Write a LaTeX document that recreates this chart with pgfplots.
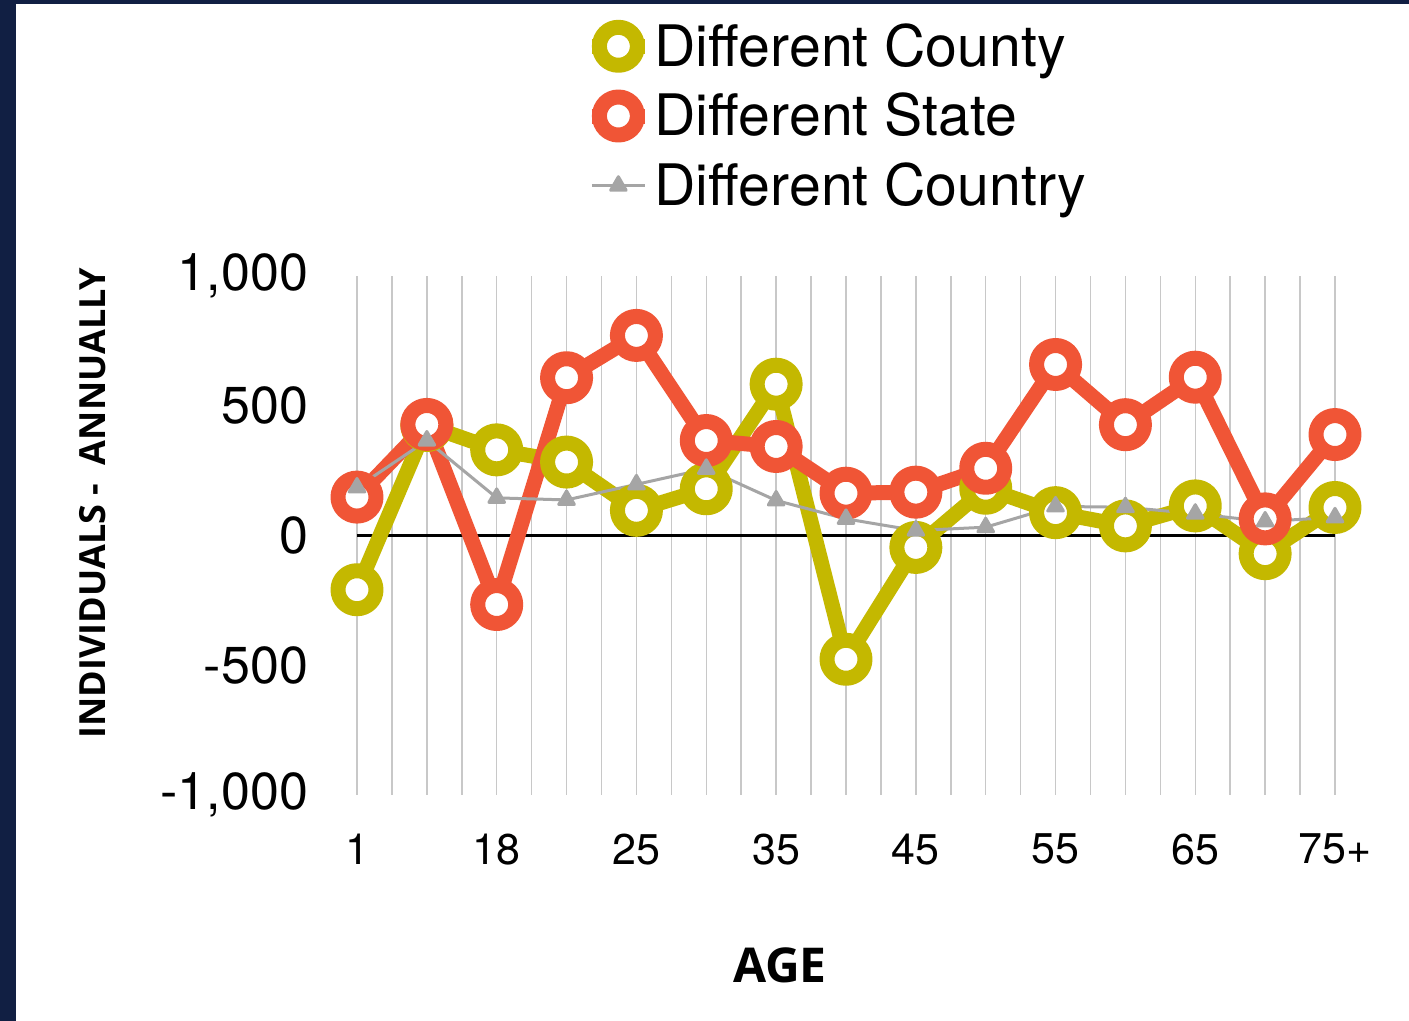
\documentclass[border=0pt]{standalone}
\usepackage{fontspec}
\setmainfont{TeX Gyre Heros}
\newfontfamily\osans{Open Sans}
\usepackage{pgfplots}
\pgfplotsset{compat=1.18}
\definecolor{county}{HTML}{C4B800}
\definecolor{state}{HTML}{F05536}
\definecolor{country}{HTML}{A5A5A5}
\definecolor{navy}{HTML}{111F43}
\definecolor{gridc}{HTML}{C8C8C8}
\begin{document}
\begin{tikzpicture}
\useasboundingbox (-178.5pt,-113pt) rectangle (526pt,397.5pt);
\fill[white] (-178.5pt,-113pt) rectangle (526pt,397.5pt);
\fill[navy] (-178.5pt,-113pt) rectangle (-170.5pt,397.5pt);
\fill[navy] (-178.5pt,395.5pt) rectangle (526pt,397.5pt);
\begin{axis}[
  at={(0,0)}, anchor=south west,
  scale only axis, width=489pt, height=259.5pt,
  xmin=0, xmax=14, ymin=-1000, ymax=1000,
  clip=false,
  axis line style={draw=none},
  xtick={0,...,14},
  xticklabels={1,,18,,25,,35,,45,,55,,65,,75+},
  minor x tick num=1,
  xmajorgrids, xminorgrids,
  major grid style={gridc, line width=0.75pt},
  minor grid style={gridc, line width=0.75pt},
  ytick={-1000,-500,0,500,1000},
  yticklabels={{-1,000},{-500},{0},{500},{1,000}},
  major tick length=0pt, minor tick length=0pt,
  xticklabel style={font=\fontsize{21.5}{24}\selectfont, yshift=-16pt},
  yticklabel style={font=\fontsize{26}{30}\selectfont, xshift=-21pt},
  xlabel={\osans\bfseries AGE},
  xlabel style={at={(axis description cs:0.4325,-0.3276)}, anchor=center, font=\fontsize{24}{28}\selectfont},
  ylabel={\osans\bfseries INDIVIDUALS -\ \ ANNUALLY},
  ylabel style={at={(axis description cs:-0.27,0.5625)}, anchor=center, font=\fontsize{18}{21}\selectfont},
  legend image code/.code={\draw[mark repeat=2,mark phase=2] plot coordinates {(0pt,0pt) (13.25pt,0pt) (26.5pt,0pt)};},
  legend style={at={(rel axis cs:0.2321,1.4913)}, anchor=north west, draw=none, fill=none,
    font=\fontsize{28.6}{31}\selectfont, inner sep=0pt, row sep=10pt,
    nodes={inner sep=1pt}, /tikz/every even column/.append style={column sep=-2pt}},
  legend cell align=left,
]
\draw[black, line width=1.3pt] (axis cs:0,0) -- (axis cs:14,0);
\addplot[county, line width=7.5pt, line join=round, mark=*, mark size=9.5pt,
  mark options={fill=white, draw=county, line width=7.5pt}]
  coordinates {(0,-209) (1,424) (2,330) (3,283) (4,97) (5,180) (6,583) (7,-477) (8,-46) (9,182) (10,88) (11,37) (12,114) (13,-70) (14,108)};
\addlegendentry{Different County}
\addplot[state, line width=7.5pt, line join=round, mark=*, mark size=9.5pt,
  mark options={fill=white, draw=state, line width=7.5pt}]
  coordinates {(0,148) (1,428) (2,-266) (3,608) (4,771) (5,366) (6,343) (7,163) (8,167) (9,259) (10,659) (11,427) (12,610) (13,64) (14,389)};
\addlegendentry{Different State}
\addplot[country, line width=1.5pt, line join=round, mark=triangle*, mark size=4.5pt,
  mark options={fill=country, draw=none}]
  coordinates {(0,185) (1,366) (2,145) (3,137) (4,197) (5,257) (6,135) (7,64) (8,19) (9,32) (10,112) (11,109) (12,84) (13,54) (14,70)};
\addlegendentry{Different Country}
\end{axis}
\end{tikzpicture}
\end{document}
